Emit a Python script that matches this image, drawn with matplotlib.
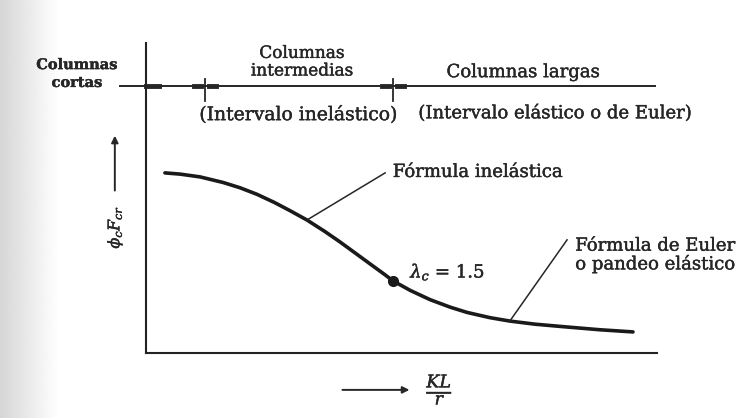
import numpy as np
import matplotlib.pyplot as plt
import matplotlib.patheffects as pe

# curva de resistencia de columnas: phi_c*F_cr contra KL/r (unidades relativas)
kl_r = [3.7, 6.7, 10.6, 15.1, 18.4, 21.7, 25.2, 28.2, 31.5, 35.0, 37.9, 40.9,
        43.8, 46.8, 48.3, 51.7, 55.6, 59.5, 62.8, 67.3, 71.2, 76.1, 81.6, 88.8, 95.3]
phi_fcr = [58.1, 57.7, 56.8, 55.0, 53.3, 51.2, 48.5, 45.9, 42.9, 39.2, 35.9, 32.3,
           28.8, 25.2, 23.3, 20.2, 17.2, 14.8, 13.1, 11.4, 10.3, 9.3, 8.5, 7.5, 6.8]

# punto de transicion lambda_c = 1.5
lam_x = [48.3]
lam_y = [23.3]

# limites de los intervalos sobre la linea superior
limites = [0.0, 11.5, 48.3]
y_zonas = 86.1

fig = plt.figure(figsize=(7.39, 4.18), dpi=100)

# borde gris del escaneo
fondo = fig.add_axes([0, 0, 1, 1], zorder=-1)
grad = np.linspace(0.84, 1.0, 80)
grad = np.concatenate([grad, np.ones(920)])[None, :]
fondo.imshow(grad, cmap='gray', vmin=0, vmax=1, aspect='auto', extent=[0, 1, 0, 1])
fondo.axis('off')

ax = fig.add_axes([146 / 739, 65 / 418, 511 / 739, 310 / 418])
ax.patch.set_alpha(0)
ax.set_xlim(0, 100)
ax.set_ylim(0, 100)
for s in ['top', 'right']:
    ax.spines[s].set_visible(False)
for s in ['left', 'bottom']:
    ax.spines[s].set_linewidth(1.5)
    ax.spines[s].set_color('#222222')
ax.set_xticks([])
ax.set_yticks([])

serif = 'DejaVu Serif'
col = '#262626'
grueso = [pe.withStroke(linewidth=0.3, foreground=col)]

ax.plot(kl_r, phi_fcr, color='#1a1a1a', lw=2.6, solid_capstyle='round')
ax.plot(lam_x, lam_y, 'o', color='#1a1a1a', ms=7)

# linea de intervalos con sus marcas
ax.plot([-5.1, 99.6], [y_zonas, y_zonas], color=col, lw=1.4, clip_on=False)
ax.plot([limites[0], limites[0] + 2.5], [y_zonas, y_zonas], color=col, lw=3.5, clip_on=False)
for xl in limites[1:]:
    ax.plot([xl - 2.2, xl - 0.8], [y_zonas, y_zonas], color=col, lw=3.5)
    ax.plot([xl + 0.8, xl + 2.2], [y_zonas, y_zonas], color=col, lw=3.5)
    ax.plot([xl, xl], [y_zonas + 2.2, y_zonas - 4.8], color=col, lw=1.3)

def rotulo(x, y, s, size, **kw):
    kw.setdefault('ha', 'center')
    ax.text(x, y, s, family=serif, fontsize=size, va='center', color=col,
            clip_on=False, path_effects=grueso, **kw)

rotulo(-13.5, 90.0, 'Columnas\ncortas', 10.5, weight='bold', linespacing=1.35)
rotulo(30.5, 93.8, 'Columnas\nintermedias', 12.2, linespacing=1.05)
rotulo(29.7, 76.8, '(Intervalo inelástico)', 13.5)
rotulo(73.8, 90.6, 'Columnas largas', 13)
rotulo(80.0, 77.4, '(Intervalo elástico o de Euler)', 13)

# rotulos de las formulas
ax.plot([31.5, 46.8], [42.9, 58.1], color=col, lw=1.1)
rotulo(48.3, 58.4, 'Fórmula inelástica', 13, ha='left')
ax.plot([71.2, 82.4], [10.3, 36.5], color=col, lw=1.1)
rotulo(84.0, 31.6, 'Fórmula de Euler\no pandeo elástico', 13, ha='left', linespacing=0.95)
ax.text(51.7, 26.1, r'$\lambda_c$ = 1.5', family=serif, fontsize=13, ha='left',
        va='center', color=col, math_fontfamily='dejavuserif', path_effects=grueso)

# etiquetas de los ejes con flechas
ax.annotate('', xy=(-6.1, 71.0), xytext=(-6.1, 51.5), xycoords='data',
            arrowprops=dict(arrowstyle='-|>', color=col, lw=1.4, mutation_scale=10),
            annotation_clip=False)
ax.text(-6.1, 40.6, r'$\phi_c F_{cr}$', fontsize=11.5, rotation=90,
        ha='center', va='center', color=col, math_fontfamily='dejavuserif',
        path_effects=grueso)
ax.annotate('', xy=(52.1, -11.9), xytext=(37.9, -11.9), xycoords='data',
            arrowprops=dict(arrowstyle='-|>', color=col, lw=1.4, mutation_scale=10),
            annotation_clip=False)
ax.text(57.5, -11.9, r'$\frac{KL}{r}$', fontsize=18, ha='center', va='center',
        color=col, math_fontfamily='dejavuserif', path_effects=grueso)

fig.savefig('out.png', dpi=100)
